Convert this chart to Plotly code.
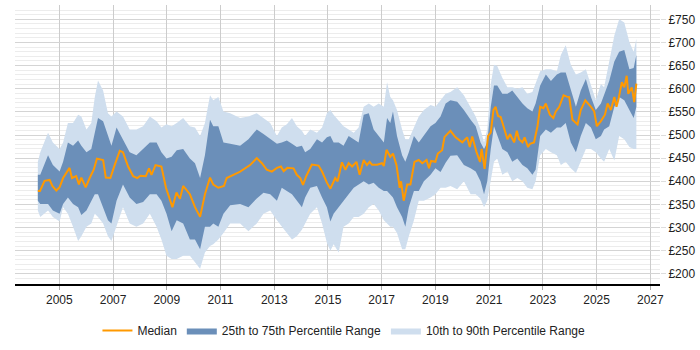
import plotly.graph_objects as go

# ---- data ----
median_years = [2004.20, 2004.28, 2004.45, 2004.64, 2004.74, 2004.89, 2005.01, 2005.14, 2005.38, 2005.47,
                2005.63, 2005.73, 2005.82, 2005.98, 2006.13, 2006.28, 2006.40, 2006.63, 2006.73, 2006.90,
                2007.06, 2007.25, 2007.37, 2007.56, 2007.75, 2007.90, 2008.02, 2008.22, 2008.34, 2008.43,
                2008.58, 2008.80, 2008.97, 2009.05, 2009.21, 2009.36, 2009.49, 2009.61, 2009.86, 2010.05,
                2010.24, 2010.42, 2010.61, 2010.73, 2010.92, 2011.13, 2011.23, 2011.48, 2011.73, 2012.10,
                2012.35, 2012.54, 2012.72, 2012.91, 2013.10, 2013.25, 2013.35, 2013.49, 2013.72, 2013.84,
                2013.97, 2014.07, 2014.19, 2014.40, 2014.65, 2014.78, 2014.96, 2015.09, 2015.27, 2015.36,
                2015.52, 2015.65, 2015.77, 2015.90, 2016.06, 2016.18, 2016.33, 2016.45, 2016.55, 2016.64,
                2016.83, 2017.01, 2017.08, 2017.18, 2017.32, 2017.42, 2017.55, 2017.67, 2017.72, 2017.82,
                2017.95, 2018.07, 2018.22, 2018.38, 2018.51, 2018.67, 2018.76, 2018.84, 2019.00, 2019.09,
                2019.25, 2019.34, 2019.56, 2019.75, 2020.00, 2020.18, 2020.28, 2020.37, 2020.53, 2020.66,
                2020.72, 2020.83, 2020.96, 2021.06, 2021.16, 2021.24, 2021.33, 2021.43, 2021.55, 2021.68,
                2021.78, 2021.93, 2022.03, 2022.11, 2022.24, 2022.32, 2022.45, 2022.52, 2022.67, 2022.80,
                2022.90, 2023.02, 2023.11, 2023.26, 2023.39, 2023.48, 2023.61, 2023.77, 2023.89, 2023.98,
                2024.10, 2024.29, 2024.41, 2024.58, 2024.79, 2024.91, 2025.01, 2025.16, 2025.31, 2025.41,
                2025.53, 2025.66, 2025.74, 2025.82, 2025.94, 2026.03, 2026.12, 2026.18, 2026.31, 2026.40,
                2026.48]
median = [379, 379, 401, 403, 390, 380, 387, 407, 429, 407,
          411, 393, 408, 387, 407, 425, 449, 446, 408, 407,
          435, 466, 463, 432, 411, 407, 412, 411, 428, 414,
          435, 432, 386, 372, 344, 376, 362, 390, 372, 344,
          323, 372, 408, 393, 386, 390, 407, 414, 421, 435,
          450, 439, 425, 421, 429, 432, 422, 429, 428, 414,
          407, 392, 411, 436, 434, 421, 397, 384, 407, 400,
          441, 425, 439, 432, 442, 414, 446, 435, 442, 436,
          436, 439, 433, 468, 453, 460, 435, 386, 400, 358,
          393, 393, 442, 446, 439, 446, 428, 444, 442, 460,
          467, 496, 509, 495, 484, 495, 474, 497, 463, 442,
          470, 427, 498, 505, 554, 561, 541, 539, 516, 491,
          502, 484, 509, 491, 484, 495, 474, 481, 484, 519,
          561, 558, 568, 544, 537, 551, 561, 586, 583, 582,
          533, 523, 554, 575, 561, 551, 519, 530, 544, 568,
          554, 582, 561, 579, 614, 603, 628, 589, 603, 571,
          611]

band_years = [2004.20, 2004.29, 2004.58, 2004.76, 2005.01, 2005.14, 2005.32, 2005.51, 2005.70, 2005.82,
              2006.01, 2006.19, 2006.32, 2006.44, 2006.63, 2006.81, 2006.94, 2007.13, 2007.37, 2007.62,
              2007.87, 2008.12, 2008.37, 2008.62, 2008.80, 2008.99, 2009.18, 2009.37, 2009.61, 2009.86,
              2010.05, 2010.24, 2010.42, 2010.61, 2010.73, 2010.92, 2011.11, 2011.36, 2011.73, 2012.04,
              2012.35, 2012.60, 2012.85, 2013.10, 2013.28, 2013.47, 2013.66, 2013.84, 2014.03, 2014.15,
              2014.34, 2014.59, 2014.78, 2014.96, 2015.09, 2015.21, 2015.40, 2015.58, 2015.77, 2015.96,
              2016.14, 2016.33, 2016.52, 2016.70, 2016.89, 2017.08, 2017.20, 2017.32, 2017.42, 2017.57,
              2017.76, 2017.88, 2018.01, 2018.20, 2018.38, 2018.57, 2018.82, 2019.00, 2019.19, 2019.38,
              2019.56, 2019.81, 2020.06, 2020.31, 2020.50, 2020.68, 2020.81, 2020.93, 2021.06, 2021.18,
              2021.30, 2021.49, 2021.68, 2021.86, 2022.05, 2022.24, 2022.42, 2022.61, 2022.73, 2022.90,
              2023.11, 2023.30, 2023.52, 2023.67, 2023.85, 2024.04, 2024.23, 2024.41, 2024.60, 2024.79,
              2024.97, 2025.16, 2025.28, 2025.47, 2025.66, 2025.84, 2026.03, 2026.22, 2026.38, 2026.48]
p90 = [442, 463, 505, 484, 470, 484, 526, 526, 544, 540,
       512, 526, 582, 618, 596, 547, 540, 551, 540, 512,
       512, 519, 540, 530, 516, 523, 519, 526, 537, 519,
       516, 498, 526, 586, 575, 582, 551, 547, 537, 540,
       547, 537, 526, 498, 516, 523, 537, 519, 509, 498,
       512, 505, 516, 547, 554, 544, 530, 519, 512, 505,
       516, 561, 568, 561, 568, 561, 614, 582, 575, 554,
       512, 491, 491, 516, 540, 554, 565, 561, 575, 589,
       593, 603, 586, 561, 540, 512, 484, 512, 610, 652,
       649, 624, 603, 603, 600, 603, 589, 593, 610, 638,
       642, 642, 638, 673, 694, 652, 631, 635, 642, 610,
       575, 610, 603, 659, 715, 750, 743, 701, 680, 708]
p75 = [414, 414, 456, 435, 421, 442, 484, 477, 488, 477,
       463, 470, 505, 537, 530, 498, 477, 516, 491, 463,
       456, 470, 484, 484, 463, 449, 453, 467, 470, 449,
       439, 407, 456, 533, 519, 519, 484, 481, 477, 491,
       512, 502, 491, 481, 484, 488, 481, 474, 477, 463,
       470, 491, 484, 495, 498, 484, 484, 477, 498, 491,
       484, 544, 547, 512, 498, 484, 537, 526, 551, 498,
       456, 442, 463, 498, 484, 498, 519, 526, 540, 568,
       575, 572, 554, 533, 519, 484, 470, 484, 561, 607,
       607, 589, 589, 596, 582, 568, 558, 551, 568, 607,
       631, 617, 631, 635, 635, 596, 561, 596, 621, 582,
       554, 568, 586, 617, 659, 680, 684, 642, 645, 673]
p25 = [358, 351, 351, 337, 330, 351, 365, 351, 344, 327,
       337, 358, 372, 372, 344, 316, 309, 358, 393, 365,
       351, 355, 372, 372, 358, 330, 292, 316, 309, 274,
       274, 253, 302, 302, 309, 302, 330, 348, 351, 344,
       363, 375, 372, 358, 386, 379, 372, 358, 344, 365,
       386, 390, 365, 344, 313, 330, 344, 358, 372, 386,
       393, 400, 393, 397, 386, 379, 379, 372, 365, 344,
       323, 302, 344, 379, 379, 400, 414, 428, 420, 440,
       455, 456, 435, 428, 421, 400, 372, 400, 470, 519,
       498, 470, 463, 442, 449, 435, 428, 414, 425, 498,
       512, 505, 516, 516, 526, 484, 463, 498, 526, 516,
       491, 498, 512, 519, 561, 582, 575, 554, 537, 561]
p10 = [337, 323, 337, 323, 313, 344, 330, 302, 271, 281,
       302, 309, 330, 323, 309, 281, 271, 302, 344, 309,
       302, 309, 330, 302, 274, 239, 232, 232, 239, 239,
       225, 211, 246, 260, 264, 274, 288, 309, 309, 292,
       309, 330, 337, 316, 302, 288, 274, 281, 295, 309,
       330, 344, 309, 267, 250, 264, 246, 302, 309, 323,
       323, 330, 344, 351, 337, 316, 309, 302, 302, 288,
       253, 253, 281, 316, 358, 358, 365, 372, 386, 386,
       390, 383, 400, 372, 372, 362, 344, 358, 400, 442,
       449, 414, 421, 400, 407, 400, 386, 383, 400, 456,
       470, 463, 456, 435, 442, 428, 418, 442, 470, 470,
       463, 449, 442, 470, 445, 498, 491, 474, 470, 470]

y_tick_values = [200, 250, 300, 350, 400, 450, 500, 550, 600, 650, 700, 750]
y_tick_labels = ["£" + str(v) for v in y_tick_values]
x_tick_values = list(range(2005, 2028, 2))
x_tick_labels = [str(v) for v in x_tick_values]

LIGHT = "#cfdeee"
DARK = "#6b8fb9"
ORANGE = "#ff9900"

fig = go.Figure()
fig.add_trace(go.Scatter(
    x=band_years + band_years[::-1], y=p90 + p10[::-1],
    fill="toself", fillcolor=LIGHT, line=dict(width=0, color=LIGHT),
    mode="lines", name="10th to 90th Percentile Range", legendrank=3, hoverinfo="skip"))
fig.add_trace(go.Scatter(
    x=band_years + band_years[::-1], y=p75 + p25[::-1],
    fill="toself", fillcolor=DARK, line=dict(width=0, color=DARK),
    mode="lines", name="25th to 75th Percentile Range", legendrank=2, hoverinfo="skip"))
fig.add_trace(go.Scatter(
    x=median_years, y=median, mode="lines",
    line=dict(color=ORANGE, width=2), name="Median", legendrank=1))

fig.update_layout(
    width=700, height=350,
    margin=dict(l=15, r=40, t=5, b=58),
    paper_bgcolor="white", plot_bgcolor="white",
    font=dict(family="Liberation Sans, Arial, sans-serif", size=12, color="#222"),
    showlegend=True,
    legend=dict(orientation="h", x=0.51, xanchor="center", y=-0.115, yanchor="top",
                font=dict(size=12, color="#222"), itemwidth=30, traceorder="normal"),
    xaxis=dict(range=[2003.35, 2027.36], tickmode="array", tickvals=x_tick_values,
               ticktext=x_tick_labels, showgrid=True, gridcolor="#cccccc", gridwidth=1,
               showline=True, linecolor="#000", linewidth=1.5, ticks="outside",
               ticklen=4, tickcolor="#aaa", zeroline=False),
    yaxis=dict(range=[178, 781], side="right", tickmode="array", tickvals=y_tick_values,
               ticktext=y_tick_labels, showgrid=True, gridcolor="#d4d4d4", gridwidth=1,
               ticks="outside", ticklen=5, tickcolor="#ddd", zeroline=False, showline=False,
               minor=dict(dtick=10, tick0=200, showgrid=True, gridcolor="#ececec", gridwidth=1)),
)

fig.write_html("out.html")
